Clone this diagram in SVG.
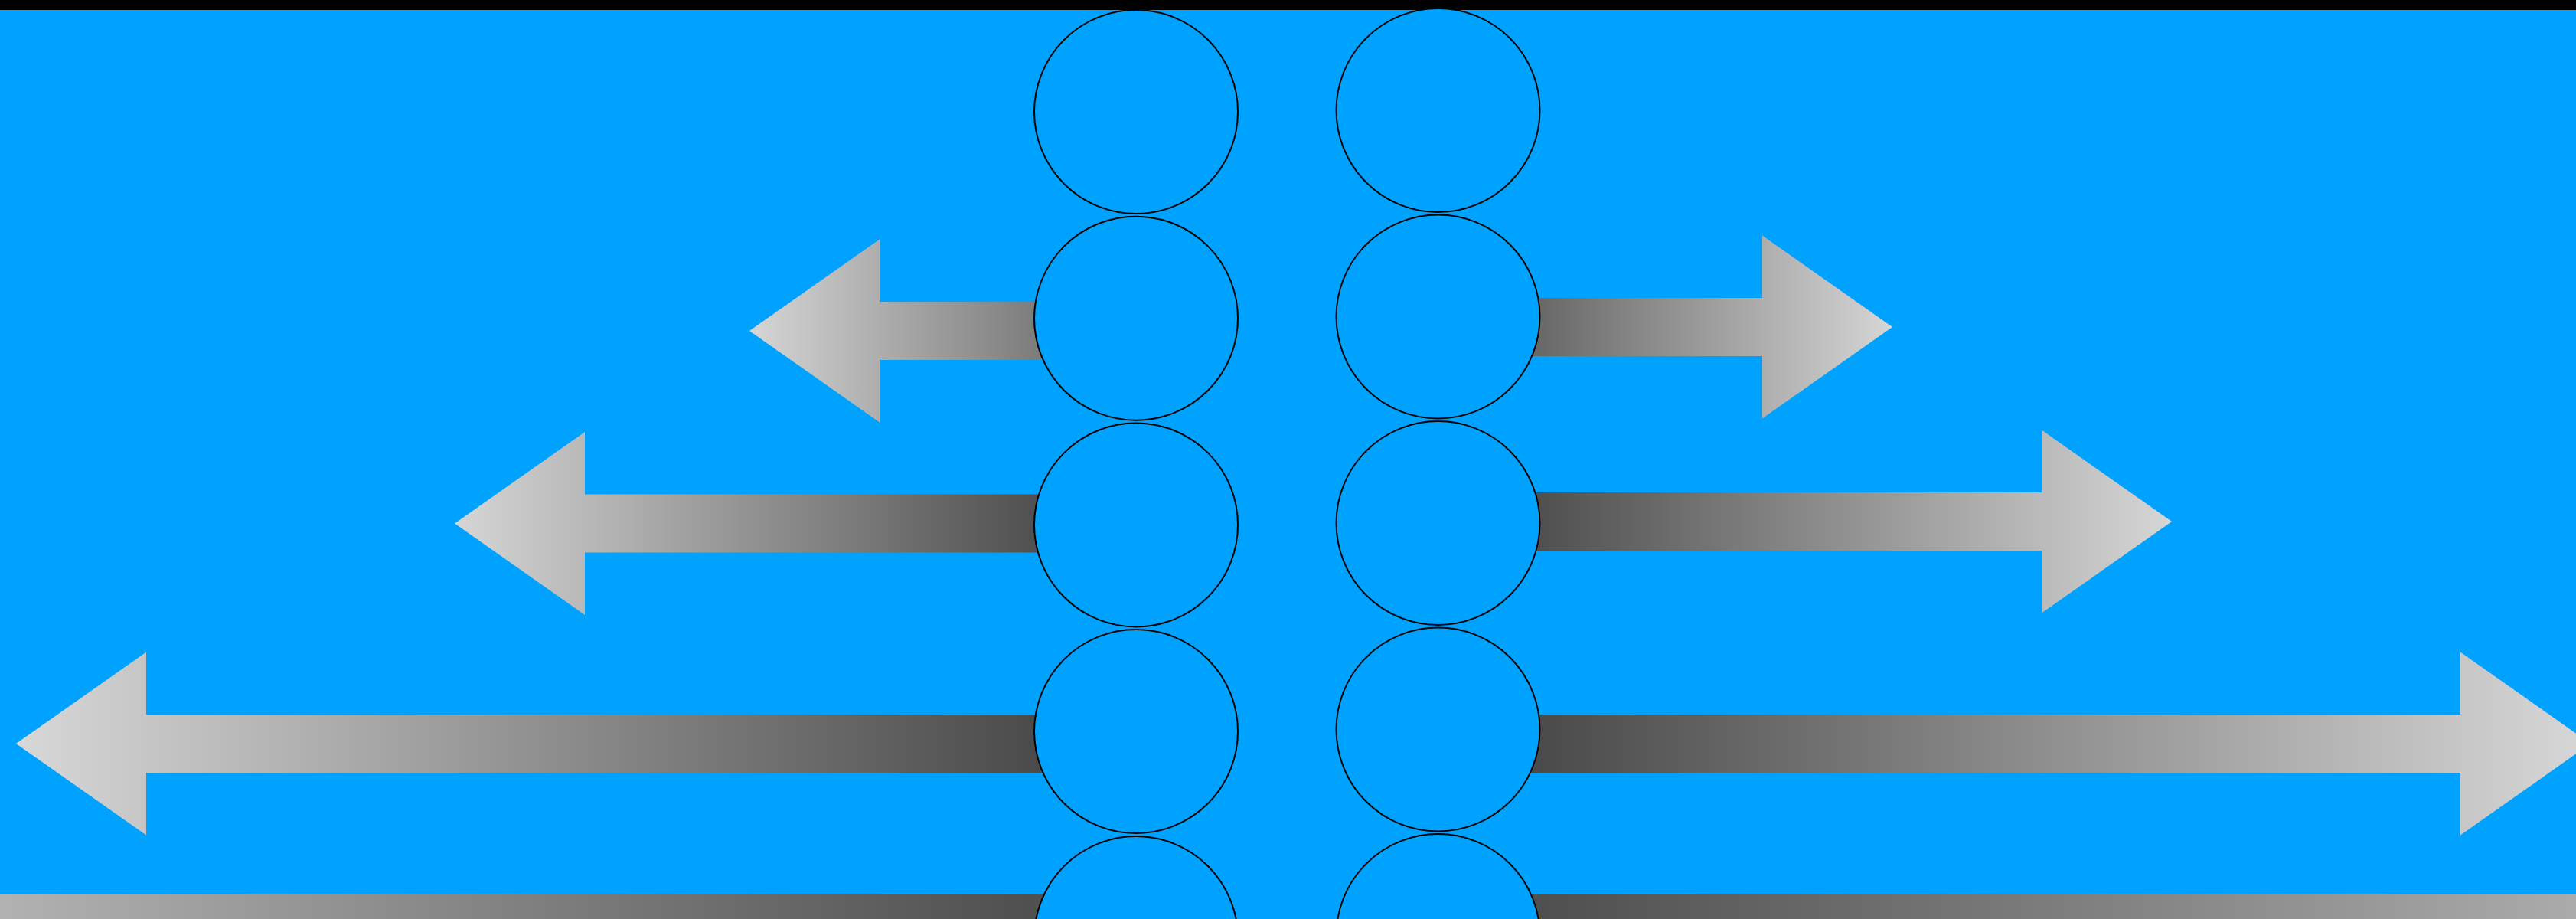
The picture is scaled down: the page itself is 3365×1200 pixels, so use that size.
<svg xmlns="http://www.w3.org/2000/svg" width="3365" height="1200" viewBox="0 0 3365 1200">
  <style>
    .bg { fill: #00a2ff; }
    .node { fill: #00a2ff; stroke: #000000; stroke-width: 2; }
  </style>
  <defs>
    <linearGradient id="gL1" gradientUnits="userSpaceOnUse" x1="979" y1="0" x2="1525" y2="0">
      <stop offset="0" stop-color="#d6d6d6"/><stop offset="1" stop-color="#545454"/>
    </linearGradient>
    <linearGradient id="gL2" gradientUnits="userSpaceOnUse" x1="594" y1="0" x2="1360" y2="0">
      <stop offset="0" stop-color="#d6d6d6"/><stop offset="1" stop-color="#4f4f4f"/>
    </linearGradient>
    <linearGradient id="gL3" gradientUnits="userSpaceOnUse" x1="21" y1="0" x2="1360" y2="0">
      <stop offset="0" stop-color="#d8d8d8"/><stop offset="1" stop-color="#4a4a4a"/>
    </linearGradient>
    <linearGradient id="gL4" gradientUnits="userSpaceOnUse" x1="0" y1="0" x2="1340" y2="0">
      <stop offset="0" stop-color="#b2b2b2"/><stop offset="1" stop-color="#505050"/>
    </linearGradient>
    <linearGradient id="gR1" gradientUnits="userSpaceOnUse" x1="1926" y1="0" x2="2472" y2="0">
      <stop offset="0" stop-color="#545454"/><stop offset="1" stop-color="#d6d6d6"/>
    </linearGradient>
    <linearGradient id="gR2" gradientUnits="userSpaceOnUse" x1="2005" y1="0" x2="2837" y2="0">
      <stop offset="0" stop-color="#4f4f4f"/><stop offset="1" stop-color="#d6d6d6"/>
    </linearGradient>
    <linearGradient id="gR3" gradientUnits="userSpaceOnUse" x1="2005" y1="0" x2="3384" y2="0">
      <stop offset="0" stop-color="#4a4a4a"/><stop offset="1" stop-color="#d8d8d8"/>
    </linearGradient>
    <linearGradient id="gR4" gradientUnits="userSpaceOnUse" x1="2020" y1="0" x2="3365" y2="0">
      <stop offset="0" stop-color="#505050"/><stop offset="1" stop-color="#ababab"/>
    </linearGradient>
  </defs>

  <rect class="bg" x="0" y="0" width="3365" height="1200"/>
  <rect x="0" y="0" width="3365" height="13" fill="#000000"/>

  <g id="connectors">
    <polygon id="arrow-left-1" fill="url(#gL1)" points="979,432 1149,312.5 1149,394 1484,394 1484,470 1149,470 1149,551.5"/>
    <polygon id="arrow-left-2" fill="url(#gL2)" points="594,683.5 764,564 764,645.5 1484,645.5 1484,721.5 764,721.5 764,803"/>
    <polygon id="arrow-left-3" fill="url(#gL3)" points="21,971 191,851.5 191,933 1484,933 1484,1009 191,1009 191,1090.5"/>
    <polygon id="arrow-left-4" fill="url(#gL4)" points="-600,1205 -430,1085.5 -430,1167 1484,1167 1484,1243 -430,1243 -430,1324.5"/>
    <polygon id="arrow-right-1" fill="url(#gR1)" points="2472,427 2302,307.5 2302,389 1878,389 1878,465 2302,465 2302,546.5"/>
    <polygon id="arrow-right-2" fill="url(#gR2)" points="2837,681 2667,561.5 2667,643 1878,643 1878,719 2667,719 2667,800.5"/>
    <polygon id="arrow-right-3" fill="url(#gR3)" points="3384,971 3214,851.5 3214,933 1878,933 1878,1009 3214,1009 3214,1090.5"/>
    <polygon id="arrow-right-4" fill="url(#gR4)" points="3965,1205 3795,1085.5 3795,1167 1878,1167 1878,1243 3795,1243 3795,1324.5"/>
  </g>

  <g id="node-l1"><circle class="node" cx="1484" cy="146" r="133"/></g>
  <g id="node-l2"><circle class="node" cx="1484" cy="415.7" r="133"/></g>
  <g id="node-l3"><circle class="node" cx="1484" cy="685.4" r="133"/></g>
  <g id="node-l4"><circle class="node" cx="1484" cy="955" r="133"/></g>
  <g id="node-l5"><circle class="node" cx="1484" cy="1225" r="133"/></g>

  <g id="node-r1"><circle class="node" cx="1878.5" cy="144" r="133"/></g>
  <g id="node-r2"><circle class="node" cx="1878.5" cy="413.5" r="133"/></g>
  <g id="node-r3"><circle class="node" cx="1878.5" cy="683" r="133"/></g>
  <g id="node-r4"><circle class="node" cx="1878.5" cy="952.5" r="133"/></g>
  <g id="node-r5"><circle class="node" cx="1878.5" cy="1222" r="133"/></g>
</svg>
